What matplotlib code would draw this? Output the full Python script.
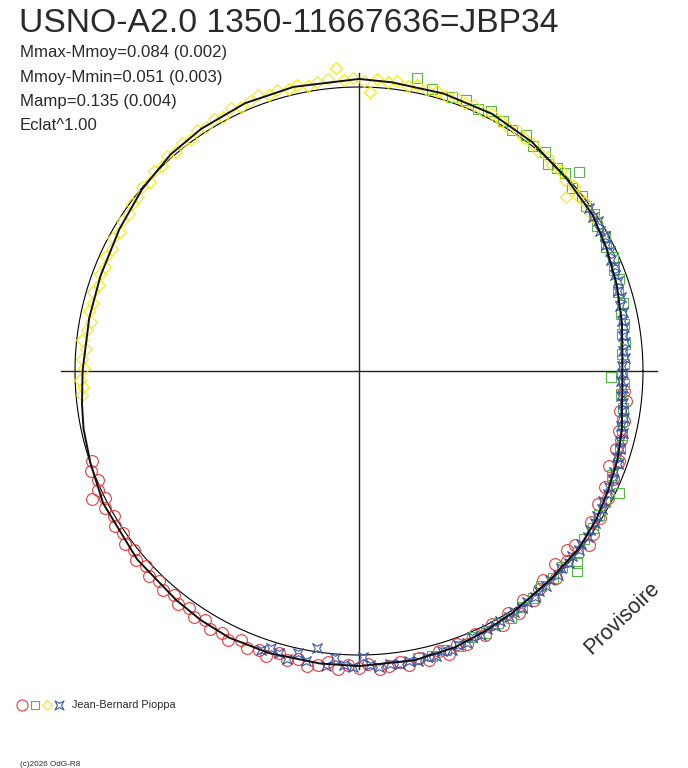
import numpy as np
import matplotlib.pyplot as plt
from matplotlib.path import Path

plt.rcParams['font.family'] = ['Liberation Sans', 'DejaVu Sans']

title = "USNO-A2.0 1350-11667636=JBP34"
info_lines = ["Mmax-Mmoy=0.084 (0.002)", "Mmoy-Mmin=0.051 (0.003)",
              "Mamp=0.135 (0.004)", "Eclat^1.00"]
observer = "Jean-Bernard Pioppa"
footer = "(c)2026 OdG-R8"
stamp = "Provisoire"

# fitted curve: (phase, mag - mean mag), positive = fainter
fit_curve = [
    (0.000, -0.032), (0.018, -0.026), (0.047, -0.024), (0.076, -0.022),
    (0.103, -0.012), (0.131, 0.004), (0.156, 0.012), (0.176, 0.030),
    (0.198, 0.048), (0.221, 0.066), (0.236, 0.078), (0.250, 0.082),
    (0.262, 0.079), (0.270, 0.075), (0.285, 0.058), (0.303, 0.042),
    (0.322, 0.030), (0.339, 0.016), (0.358, 0.006), (0.381, 0.004),
    (0.410, -0.010), (0.428, -0.020), (0.447, -0.034), (0.470, -0.042),
    (0.500, -0.044), (0.521, -0.044), (0.549, -0.048), (0.572, -0.050),
    (0.590, -0.044), (0.607, -0.036), (0.638, -0.028), (0.674, -0.016),
    (0.697, 0.000), (0.717, 0.010), (0.731, 0.020), (0.750, 0.030),
    (0.781, 0.036), (0.806, 0.034), (0.835, 0.022), (0.861, 0.004),
    (0.886, -0.012), (0.908, -0.020), (0.936, -0.028), (0.964, -0.030),
]

yellow = [
    (0.736, 0.024), (0.741, 0.030), (0.745, 0.018), (0.752, 0.034), (0.757, 0.028),
    (0.763, 0.040), (0.768, 0.022), (0.774, 0.036), (0.779, 0.044), (0.785, 0.030),
    (0.790, 0.038), (0.796, 0.026), (0.801, 0.040), (0.807, 0.030), (0.812, 0.036),
    (0.818, 0.024), (0.823, 0.032), (0.829, 0.018), (0.834, 0.028), (0.840, 0.014),
    (0.845, 0.022), (0.851, 0.006), (0.856, 0.012), (0.862, -0.002), (0.867, 0.008),
    (0.873, -0.010), (0.878, -0.002), (0.884, -0.016), (0.889, -0.006), (0.895, -0.020),
    (0.900, -0.010), (0.906, -0.024), (0.911, -0.014), (0.917, -0.026), (0.922, -0.016),
    (0.928, -0.032), (0.933, -0.022), (0.939, -0.030), (0.944, -0.038), (0.950, -0.024),
    (0.955, -0.034), (0.961, -0.026), (0.966, -0.036), (0.972, -0.022), (0.977, -0.030),
    (0.983, -0.040), (0.988, -0.079), (0.992, -0.028), (0.997, -0.036), (0.003, -0.024),
    (0.006, 0.020), (0.010, -0.034), (0.016, -0.026), (0.021, -0.032), (0.027, -0.022),
    (0.032, -0.030), (0.038, -0.020), (0.043, -0.028), (0.049, -0.018), (0.054, -0.026),
    (0.060, -0.016), (0.065, -0.024), (0.071, -0.012), (0.076, -0.020), (0.082, -0.014),
    (0.087, -0.008), (0.093, -0.016), (0.098, -0.004), (0.104, -0.010), (0.109, 0.002),
    (0.115, -0.006), (0.120, 0.006), (0.126, -0.002), (0.131, 0.010), (0.137, 0.002),
    (0.139, 0.055), (0.143, 0.014), (0.148, 0.006), (0.154, 0.018), (0.159, 0.012),
]

green = [
    (0.031, -0.060), (0.040, -0.030), (0.052, -0.020), (0.060, -0.028), (0.068, -0.014),
    (0.075, -0.030), (0.083, -0.018), (0.090, -0.008), (0.098, -0.020), (0.105, -0.002),
    (0.112, -0.012), (0.118, 0.014), (0.123, 0.002), (0.128, -0.008), (0.133, -0.048),
    (0.137, 0.010), (0.144, 0.002), (0.150, 0.016), (0.156, 0.006), (0.163, 0.020),
    (0.170, 0.014), (0.176, 0.030), (0.183, 0.022), (0.190, 0.040), (0.196, 0.034),
    (0.203, 0.052), (0.210, 0.046), (0.216, 0.062), (0.222, 0.058), (0.228, 0.072),
    (0.234, 0.066), (0.240, 0.080), (0.246, 0.074), (0.252, 0.084), (0.254, 0.127),
    (0.258, 0.074), (0.264, 0.082), (0.272, 0.070), (0.280, 0.064), (0.288, 0.052),
    (0.296, 0.048), (0.304, 0.036), (0.312, 0.040), (0.320, -0.012), (0.328, 0.022),
    (0.336, 0.018), (0.344, 0.008), (0.352, 0.012), (0.360, 0.000), (0.365, -0.024),
    (0.368, -0.046), (0.372, 0.006), (0.380, 0.000), (0.388, 0.008), (0.396, -0.006),
    (0.404, -0.010), (0.412, -0.024), (0.420, -0.016), (0.428, -0.030), (0.436, -0.022),
    (0.444, -0.036), (0.452, -0.032), (0.460, -0.042), (0.468, -0.036),
]

blue = [
    (0.152, 0.008), (0.157, 0.016), (0.161, 0.006), (0.166, 0.020), (0.170, 0.014),
    (0.175, 0.028), (0.179, 0.022), (0.184, 0.036), (0.188, 0.030), (0.193, 0.044),
    (0.197, 0.038), (0.202, 0.052), (0.206, 0.046), (0.211, 0.058), (0.215, 0.054),
    (0.220, 0.064), (0.224, 0.060), (0.229, 0.072), (0.233, 0.066), (0.238, 0.078),
    (0.242, 0.072), (0.247, 0.084), (0.251, 0.078), (0.256, 0.086), (0.260, 0.076),
    (0.265, 0.082), (0.269, 0.072), (0.274, 0.068), (0.278, 0.060), (0.283, 0.064),
    (0.287, 0.052), (0.292, 0.056), (0.296, 0.046), (0.301, 0.048), (0.305, 0.036),
    (0.310, 0.040), (0.314, 0.030), (0.319, 0.034), (0.323, 0.024), (0.328, 0.028),
    (0.332, 0.018), (0.337, 0.022), (0.341, 0.012), (0.346, 0.016), (0.350, 0.006),
    (0.355, 0.010), (0.359, 0.002), (0.364, 0.008), (0.368, -0.002), (0.373, 0.006),
    (0.377, -0.004), (0.382, 0.004), (0.386, -0.006), (0.391, 0.000), (0.395, -0.010),
    (0.400, -0.004), (0.404, -0.014), (0.409, -0.008), (0.413, -0.018), (0.418, -0.012),
    (0.422, -0.022), (0.427, -0.016), (0.431, -0.028), (0.436, -0.022), (0.440, -0.034),
    (0.445, -0.028), (0.449, -0.040), (0.454, -0.034), (0.458, -0.044), (0.463, -0.038),
    (0.468, -0.046), (0.473, -0.040), (0.478, -0.048), (0.483, -0.042), (0.489, -0.050),
    (0.494, -0.040), (0.498, -0.008), (0.503, -0.046), (0.508, -0.040), (0.513, -0.016),
    (0.518, -0.050), (0.524, 0.016), (0.529, -0.044), (0.534, -0.019), (0.539, -0.052),
    (0.544, -0.036), (0.549, -0.028), (0.554, -0.046),
]

red = [
    (0.262, 0.074), (0.268, 0.062), (0.274, 0.080), (0.280, 0.058), (0.286, 0.070),
    (0.291, 0.050), (0.297, 0.062), (0.303, 0.034), (0.308, 0.067), (0.314, 0.030),
    (0.320, 0.046), (0.325, 0.020), (0.331, 0.040), (0.337, 0.008), (0.342, 0.030),
    (0.347, -0.004), (0.353, -0.019), (0.358, 0.024), (0.363, 0.040), (0.368, 0.010),
    (0.374, 0.036), (0.379, -0.008), (0.385, 0.020), (0.390, 0.004), (0.396, -0.016),
    (0.401, 0.010), (0.407, -0.024), (0.412, 0.000), (0.418, -0.030), (0.423, -0.008),
    (0.429, -0.036), (0.434, -0.014), (0.440, -0.040), (0.445, -0.024), (0.451, -0.050),
    (0.456, -0.030), (0.462, -0.054), (0.467, -0.036), (0.473, -0.058), (0.478, -0.040),
    (0.484, -0.048), (0.489, -0.060), (0.495, -0.036), (0.500, -0.052), (0.506, -0.040),
    (0.511, -0.058), (0.517, -0.034), (0.522, -0.052), (0.528, -0.062), (0.533, -0.042),
    (0.539, -0.056), (0.544, -0.038), (0.550, -0.064), (0.555, -0.048), (0.561, -0.058),
    (0.566, -0.040), (0.572, -0.062), (0.577, -0.046), (0.583, -0.056), (0.588, -0.034),
    (0.594, -0.050), (0.599, -0.030), (0.605, -0.044), (0.610, -0.026), (0.616, -0.040),
    (0.621, -0.022), (0.627, -0.036), (0.632, -0.018), (0.638, -0.032), (0.643, -0.014),
    (0.649, -0.028), (0.654, -0.008), (0.660, -0.022), (0.665, -0.004), (0.671, -0.018),
    (0.676, 0.000), (0.679, -0.048), (0.682, -0.012), (0.687, 0.006), (0.693, -0.008),
    (0.698, 0.010),
]

# layout: centre of the diagram (359, 371) px, reference circle radius 284 px
CX, CY, R = 359, 371, 284
W, H = 688, 768
MAG_SCALE = 0.887  # radius units per magnitude

RED = '#ee3a3a'
GREEN = '#55b845'
YELLOW = '#f7ea00'
BLUE = '#3a58aa'
TXT = '#2a2a2a'

star_verts = [(-1, -1), (0, -0.45), (1, -1), (0.45, 0), (1, 1), (0, 0.45),
              (-1, 1), (-0.45, 0), (-1, -1)]
star = Path(star_verts, [Path.MOVETO] + [Path.LINETO] * 7 + [Path.CLOSEPOLY])


def to_xy(points):
    ph, mag = np.array(points).T
    r = 1 - MAG_SCALE * mag
    ang = 2 * np.pi * ph
    return r * np.sin(ang), r * np.cos(ang)


def px(x, y):
    return (x - CX) / R, (CY - y) / R


fig = plt.figure(figsize=(W / 100, H / 100), dpi=100)
ax = fig.add_axes([0, 0, 1, 1])
ax.set_xlim(-CX / R, (W - CX) / R)
ax.set_ylim(-(H - CY) / R, CY / R)
ax.axis('off')

# reference circle and axes
t = np.linspace(0, 2 * np.pi, 400)
ax.plot(np.cos(t), np.sin(t), color='black', lw=0.8, zorder=2)
ax.plot([-1.05, 1.05], [0, 0], color='#222222', lw=1.0, zorder=2)
ax.plot([0, 0], [-1.05, 1.05], color='#222222', lw=1.0, zorder=2)

# observations
style = dict(ls='none', mfc='none', mew=0.8)
x, y = to_xy(red)
ax.plot(x, y, marker='o', ms=8.5, mec=RED, zorder=3, **style)
x, y = to_xy(green)
ax.plot(x, y, marker='s', ms=6.6, mec=GREEN, zorder=3, **style)
x, y = to_xy(yellow)
ax.plot(x, y, marker='D', ms=5.8, mec=YELLOW, zorder=3, **style)
x, y = to_xy(blue)
ax.plot(x, y, marker=star, ms=7, mec=BLUE, zorder=4, **style)

# fitted curve
fx, fy = to_xy(fit_curve + [fit_curve[0]])
ax.plot(fx, fy, color='#111111', lw=1.4, zorder=5)

# texts
fig.text(19 / W, 1 - 32 / H, title, fontsize=24.2, color=TXT, va='baseline')
for i, line in enumerate(info_lines):
    fig.text(20 / W, 1 - (57.5 + 24.3 * i) / H, line, fontsize=12.1, color=TXT, va='baseline')

ax.text(*px(591, 655), stamp, fontsize=15.5, color=TXT, rotation=43.5,
        rotation_mode='anchor', ha='left', va='baseline')

# legend line
for cx, mk, ms, col in [(22, 'o', 8, RED), (35, 's', 6.2, GREEN),
                        (47, 'D', 5.2, YELLOW), (59, star, 6.5, BLUE)]:
    ax.plot(*px(cx, 705), marker=mk, ms=ms, mec=col, **style)
fig.text(72 / W, 1 - 708 / H, observer, fontsize=7.8, color=TXT, va='baseline')
fig.text(20 / W, 1 - 766 / H, footer, fontsize=5.9, color=TXT, va='baseline')

fig.savefig('out.png', dpi=100)
